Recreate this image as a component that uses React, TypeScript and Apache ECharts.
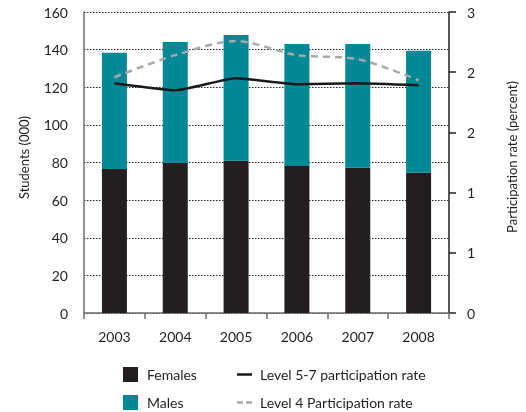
import React, { useEffect, useRef } from "react";
import * as echarts from "echarts";

const years = ["2003", "2004", "2005", "2006", "2007", "2008"];
const females = [76.6, 79.8, 80.9, 78.2, 77.2, 74.5];
const males = [61.8, 64.3, 66.9, 64.8, 65.8, 64.9];
const level57 = [2.29, 2.22, 2.34, 2.28, 2.29, 2.27];
const level4 = [2.35, 2.57, 2.71, 2.57, 2.53, 2.32];

const FONT = "Lato";
const TXT = "#231f20";
const FS = 14;

export default function App() {
  const ref = useRef<HTMLDivElement>(null);
  useEffect(() => {
    const chart = echarts.init(ref.current!, null, { renderer: "svg" });
    chart.setOption({
      animation: false,
      textStyle: { fontFamily: FONT, color: TXT },
      grid: { left: 84, right: 73, top: 12, bottom: 99 },
      xAxis: {
        type: "category",
        data: years,
        boundaryGap: true,
        axisLine: { lineStyle: { color: "#6d6e71", width: 1.5 } },
        axisTick: { show: true, length: 6, lineStyle: { color: "#6d6e71", width: 1.5 } },
        axisLabel: { color: TXT, fontSize: FS, fontFamily: FONT, margin: 16 },
      },
      yAxis: [
        {
          type: "value",
          min: 0,
          max: 160,
          interval: 20,
          name: "Students (000)",
          nameLocation: "middle",
          nameRotate: 90,
          nameGap: 54,
          nameTextStyle: { color: TXT, fontSize: 13, fontFamily: FONT, padding: [0, 0, 0, 10] },
          axisLine: { show: true, lineStyle: { color: "#6d6e71", width: 1.5 } },
          axisTick: { show: false },
          axisLabel: { color: TXT, fontSize: FS, fontFamily: FONT, margin: 16 },
          splitLine: { show: true, lineStyle: { color: "#231f20", type: [1.5, 1.5], width: 1 } },
        },
        {
          type: "value",
          min: 0,
          max: 3,
          interval: 0.6,
          position: "right",
          name: "Participation rate (percent)",
          nameLocation: "middle",
          nameRotate: 90,
          nameGap: 56,
          nameTextStyle: { color: TXT, fontSize: 13, fontFamily: FONT, padding: [0, 0, 0, 11] },
          axisLine: { show: true, lineStyle: { color: "#231f20", width: 1.5 } },
          axisTick: { show: true, inside: false, length: 7, lineStyle: { color: "#231f20", width: 1.5 } },
          axisLabel: {
            color: TXT,
            fontSize: FS,
            fontFamily: FONT,
            margin: 18,
            formatter: (v: number) => String(Math.round(v)),
          },
          splitLine: { show: false },
        },
      ],
      legend: [
        {
          data: ["Females", "Males"],
          orient: "vertical",
          left: 123,
          top: 367,
          padding: 0,
          itemWidth: 15,
          itemHeight: 15,
          itemGap: 13,
          icon: "rect",
          textStyle: { color: TXT, fontSize: FS, fontFamily: FONT, lineHeight: 15, padding: [0, 0, 0, 4] },
        },
        {
          data: [
            { name: "Level 5-7 participation rate", icon: "path://M0,6H15V8.5H0Z" },
            { name: "Level 4 Participation rate", icon: "path://M0,6H6V8.5H0Z M9,6H15V8.5H9Z" },
          ],
          orient: "vertical",
          left: 237,
          top: 367,
          padding: 0,
          itemWidth: 15,
          itemHeight: 15,
          itemGap: 13,
          textStyle: { color: TXT, fontSize: FS, fontFamily: FONT, lineHeight: 15, padding: [0, 0, 0, 3] },
        },
      ],
      series: [
        {
          name: "Females",
          type: "bar",
          stack: "s",
          data: females,
          barWidth: 25,
          itemStyle: { color: "#231f20" },
        },
        {
          name: "Males",
          type: "bar",
          stack: "s",
          data: males,
          barWidth: 25,
          itemStyle: { color: "#008896" },
        },
        {
          name: "Level 5-7 participation rate",
          type: "line",
          yAxisIndex: 1,
          data: level57,
          symbol: "none",
          smooth: 0.15,
          lineStyle: { color: "#1a1a1a", width: 2.5 },
          itemStyle: { color: "#1a1a1a" },
        },
        {
          name: "Level 4 Participation rate",
          type: "line",
          yAxisIndex: 1,
          data: level4,
          symbol: "none",
          smooth: 0.3,
          lineStyle: { color: "#a7a9ac", width: 2.5, type: [7, 5] },
          itemStyle: { color: "#a7a9ac" },
        },
      ],
    });
    return () => chart.dispose();
  }, []);
  return (
    <div
      ref={ref}
      style={{ position: "fixed", left: 0, top: 0, width: 526, height: 412 }}
    />
  );
}
